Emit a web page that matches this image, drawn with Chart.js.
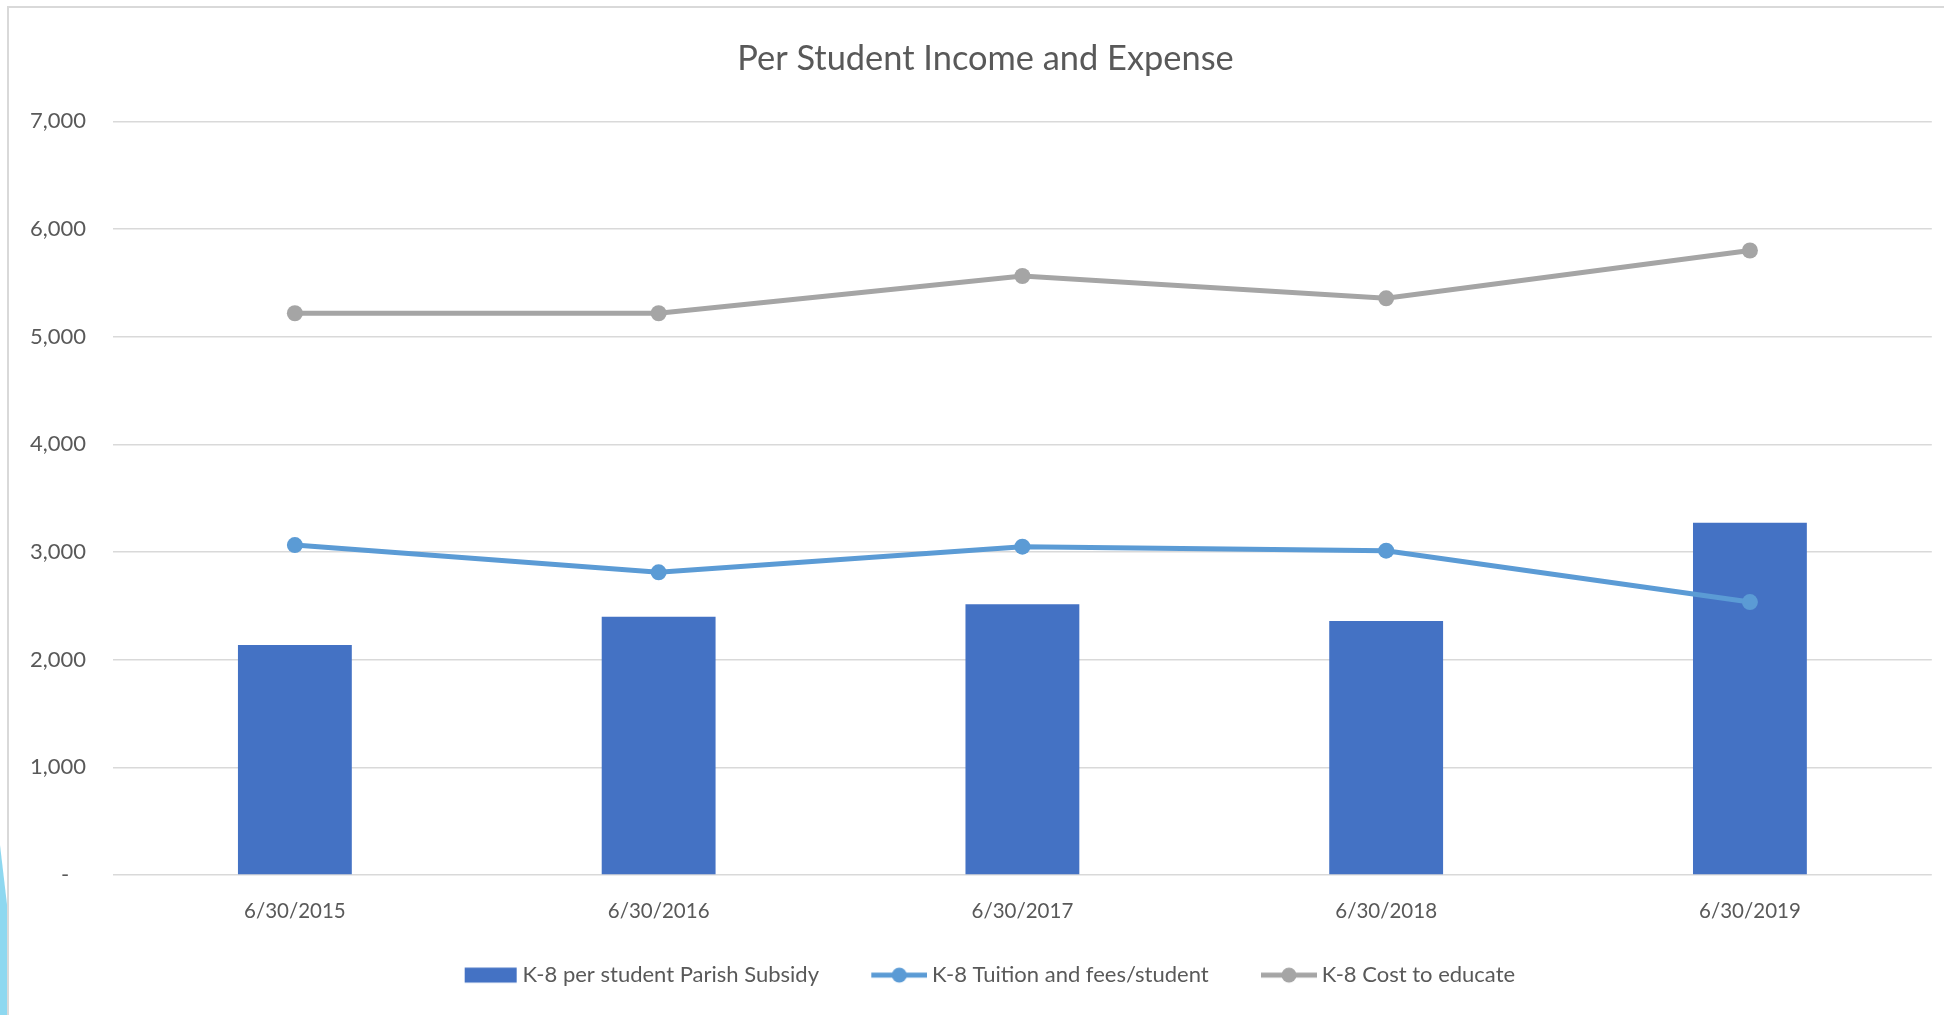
<!DOCTYPE html>
<html>
<head>
<meta charset="utf-8">
<title>Per Student Income and Expense</title>
<script src="https://cdn.jsdelivr.net/npm/chart.js@4.4.0/dist/chart.umd.min.js"></script>
<style>
  html, body { margin: 0; padding: 0; background: #fff; }
  #wrap { position: relative; width: 1944px; height: 1015px; overflow: hidden; background: #fff; }
  #frame { position: absolute; left: 7px; top: 6px; width: 2000px; height: 1100px; border: 2px solid #d9d9d9; box-sizing: border-box; }
  #accent { position: absolute; left: 0; top: 845px; width: 7px; height: 170px; background: #8ed8f0;
            clip-path: polygon(0 0, 100% 35%, 100% 100%, 0 100%); }
  canvas { position: absolute; left: 0; top: 0; }
</style>
</head>
<body>
<div id="wrap">
  <div id="frame"></div>
  <div id="accent"></div>
  <!-- chart box is wider than the window, like the cropped slide -->
  <canvas id="chart" width="1971" height="1015"></canvas>
</div>
<script>
// data
const categories = ['6/30/2015', '6/30/2016', '6/30/2017', '6/30/2018', '6/30/2019'];
const parishSubsidy = [2136, 2399, 2514, 2359, 3272];
const tuitionFees = [3064, 2811, 3049, 3012, 2535];
const costToEducate = [5217, 5217, 5563, 5356, 5800];
const seriesNames = ['K-8 per student Parish Subsidy', 'K-8 Tuition and fees/student', 'K-8 Cost to educate'];
const yMin = 0, yMax = 7000, yStep = 1000;

const fontFamily = 'Lato, "Open Sans", sans-serif';
const textColor = '#595959';
const gridColor = '#d9d9d9';
const barColor = '#4472c4';
const blueColor = '#5b9bd5';
const grayColor = '#a5a5a5';

// legend pictures: the visible icon sits in the right part of the image
const iconW = 98;
function legendIcon(color, kind) {
  const c = document.createElement('canvas');
  c.width = iconW; c.height = 18;
  const g = c.getContext('2d');
  g.fillStyle = color;
  if (kind === 'bar') {
    g.fillRect(iconW - 53, 1.5, 52, 15);
  } else {
    g.strokeStyle = color;
    g.lineWidth = 5;
    g.beginPath(); g.moveTo(iconW - 56, 9); g.lineTo(iconW, 9); g.stroke();
    g.beginPath(); g.arc(iconW - 28, 9, 7.5, 0, Math.PI * 2); g.fill();
  }
  return c;
}
const icons = [legendIcon(barColor, 'bar'), legendIcon(blueColor, 'line'), legendIcon(grayColor, 'line')];

// nudge the legend row left so the visible icons sit where they do in the picture
const legendShift = {
  id: 'legendShift',
  afterLayout(chart) {
    chart.legend.left -= 15;
    chart.legend.right -= 15;
  }
};

new Chart(document.getElementById('chart'), {
  data: {
    labels: categories,
    datasets: [
      {
        type: 'bar',
        label: seriesNames[0],
        data: parishSubsidy,
        backgroundColor: barColor,
        categoryPercentage: 1,
        barPercentage: 0.313,
        order: 3
      },
      {
        type: 'line',
        label: seriesNames[1],
        data: tuitionFees,
        borderColor: blueColor,
        backgroundColor: blueColor,
        borderWidth: 5,
        pointRadius: 8,
        pointBorderWidth: 0,
        pointBackgroundColor: blueColor,
        tension: 0,
        fill: false,
        order: 1
      },
      {
        type: 'line',
        label: seriesNames[2],
        data: costToEducate,
        borderColor: grayColor,
        backgroundColor: grayColor,
        borderWidth: 5,
        pointRadius: 8,
        pointBorderWidth: 0,
        pointBackgroundColor: grayColor,
        tension: 0,
        fill: false,
        order: 2
      }
    ]
  },
  plugins: [legendShift],
  options: {
    responsive: false,
    animation: false,
    devicePixelRatio: 1,
    layout: { padding: { left: 0, right: 0, top: 0, bottom: 18.9 } },
    plugins: {
      tooltip: { enabled: false },
      title: {
        display: true,
        text: 'Per Student Income and Expense',
        color: textColor,
        font: { family: fontFamily, size: 34.4, weight: 'normal' },
        padding: { top: 38.3, bottom: 41.7 }
      },
      legend: {
        position: 'bottom',
        labels: {
          usePointStyle: true,
          pointStyleWidth: 85.5,
          padding: 16.5,
          color: textColor,
          font: { family: fontFamily, size: 22 },
          generateLabels(chart) {
            const items = Chart.defaults.plugins.legend.labels.generateLabels(chart);
            items.forEach(it => { it.pointStyle = icons[it.datasetIndex]; });
            return items;
          },
          sort: (a, b) => a.datasetIndex - b.datasetIndex
        }
      }
    },
    scales: {
      x: {
        grid: { display: false, drawTicks: false },
        border: { display: false },
        ticks: { color: textColor, font: { family: fontFamily, size: 20.5 }, padding: 24 }
      },
      y: {
        min: yMin,
        max: yMax,
        grid: { color: gridColor, lineWidth: 1.5, drawTicks: false },
        border: { display: false },
        ticks: {
          stepSize: yStep,
          color: textColor,
          font: { family: fontFamily, size: 22 },
          padding: 27,
          callback: v => v === 0 ? '-   ' : v.toLocaleString('en-US')
        },
        afterFit(scale) { scale.width = 113; }
      },
      // empty right-hand space so title and legend centre on the whole chart box
      yRight: {
        type: 'linear',
        position: 'right',
        grid: { display: false, drawTicks: false },
        border: { display: false },
        ticks: { display: false },
        afterFit(scale) { scale.width = 39.2; }
      }
    }
  }
});
</script>
</body>
</html>
